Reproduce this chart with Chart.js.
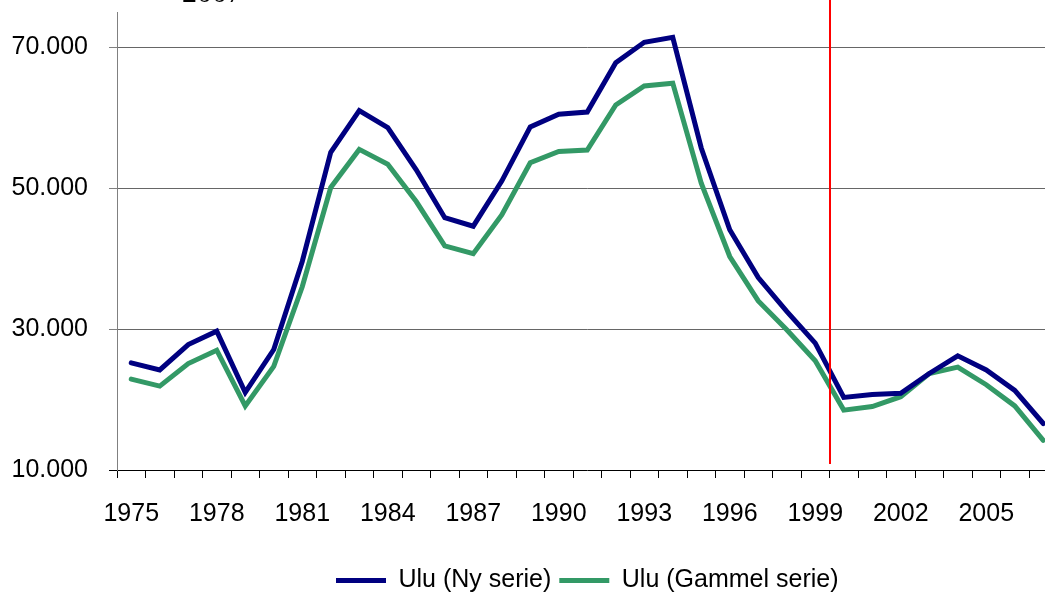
<!DOCTYPE html>
<html lang="no">
<head>
  <meta charset="UTF-8" />
  <title>Ulu 1975-2007</title>
  <script src="https://cdn.jsdelivr.net/npm/chart.js"></script>
  <style>
    html, body {
      margin: 0;
      padding: 0;
      background: #fff;
      overflow: hidden;
    }
    body {
      width: 1045px;
      height: 596px;
      position: relative;
    }
    .wrap {
      position: absolute;
      left: 0;
      top: 0;
      width: 1060px;
      height: 603px;
    }
    .title {
      position: absolute;
      left: 182px;
      top: -23px;
      font-family: "Liberation Serif", "Times New Roman", serif;
      font-size: 30px;
      line-height: 30px;
      color: #000;
      z-index: 2;
    }
  </style>
</head>
<body>
  <div class="title">2007</div>
  <div class="wrap"><canvas id="uluChart"></canvas></div>

  <script>
    const years = ["1975", "1976", "1977", "1978", "1979", "1980", "1981", "1982", "1983", "1984",
                   "1985", "1986", "1987", "1988", "1989", "1990", "1991", "1992", "1993", "1994",
                   "1995", "1996", "1997", "1998", "1999", "2000", "2001", "2002", "2003", "2004",
                   "2005", "2006", "2007"];

    const nySerie = [25200, 24200, 27800, 29700, 21000, 27100, 39600, 55100, 61000, 58600,
                     52600, 45800, 44600, 51000, 58700, 60500, 60800, 67800, 70700, 71400,
                     55700, 44100, 37300, 32500, 28000, 20300, 20700, 20900, 23700, 26200,
                     24200, 21300, 16600];

    const gammelSerie = [22900, 21900, 25100, 27000, 19100, 24700, 36000, 50100, 55500, 53400,
                         48100, 41800, 40700, 46200, 53600, 55200, 55400, 61800, 64500, 64900,
                         50700, 40300, 34000, 29900, 25500, 18500, 19000, 20400, 23700, 24600,
                         22100, 19100, 14200];

    const yTicks = [10000, 30000, 50000, 70000];
    const yMin = 10000;
    const yMax = 75000;
    const yearStep = 3;
    const breakYear = "1999"; // red line between 1999 and 2000

    Chart.defaults.font.family = '"Liberation Sans", Arial, sans-serif';
    Chart.defaults.font.size = 25;
    Chart.defaults.color = "#000";

    function fmt(v) {
      // 70000 -> "70.000"
      return String(v).replace(/\B(?=(\d{3})+(?!\d))/g, ".");
    }

    // vertical red marker
    const breakLine = {
      id: "breakLine",
      afterDatasetsDraw(chart) {
        const x = chart.scales.x;
        const i = years.indexOf(breakYear);
        const px = Math.round((x.getPixelForValue(i) + x.getPixelForValue(i + 1)) / 2);
        const ctx = chart.ctx;
        ctx.save();
        ctx.strokeStyle = "#ff0000";
        ctx.lineWidth = 2;
        ctx.beginPath();
        ctx.moveTo(px, 0);
        ctx.lineTo(px, chart.chartArea.bottom - 6);
        ctx.stroke();
        ctx.restore();
      }
    };

    const chart = new Chart(document.getElementById("uluChart"), {
      type: "line",
      data: {
        labels: years,
        datasets: [{
          label: "Ulu (Ny serie)",
          data: nySerie,
          borderColor: "#000080",
          backgroundColor: "#000080",
          borderWidth: 5,
          borderCapStyle: "round",
          pointRadius: 0,
          tension: 0
        }, {
          label: "Ulu (Gammel serie)",
          data: gammelSerie,
          borderColor: "#339966",
          backgroundColor: "#339966",
          borderWidth: 5,
          borderCapStyle: "round",
          pointRadius: 0,
          tension: 0
        }]
      },
      options: {
        responsive: true,
        maintainAspectRatio: false,
        animation: false,
        layout: {
          padding: { top: 12, right: 2.5, left: 0, bottom: 0 }
        },
        plugins: {
          title: { display: false },
          tooltip: { enabled: false },
          legend: {
            position: "bottom",
            fullSize: false,
            labels: {
              boxWidth: 50,
              boxHeight: 5,
              padding: 8,
              color: "#000",
              font: { size: 25 },
              generateLabels(c) {
                return Chart.defaults.plugins.legend.labels.generateLabels(c).map(item => {
                  item.fillStyle = item.strokeStyle;
                  item.lineWidth = 0;
                  return item;
                });
              }
            }
          }
        },
        scales: {
          x: {
            offset: true,
            grid: {
              offset: true,
              drawOnChartArea: false,
              drawTicks: true,
              tickLength: 8,
              tickColor: "#000"
            },
            border: { color: "#000", width: 1 },
            ticks: {
              autoSkip: false,
              maxRotation: 0,
              minRotation: 0,
              padding: 21,
              color: "#000",
              callback: function (val, i) {
                return i % yearStep === 0 ? years[i] : "";
              }
            },
            afterFit(scale) {
              scale.height = 90;
              scale.paddingLeft = 0;
              scale.paddingRight = 0;
            }
          },
          y: {
            min: yMin,
            max: yMax,
            afterBuildTicks(scale) {
              scale.ticks = yTicks.map(v => ({ value: v }));
            },
            grid: {
              color: ctx => (ctx.tick && ctx.tick.value === yMin) ? "rgba(0,0,0,0)" : "#666666",
              tickColor: ctx => (ctx.tick && ctx.tick.value === yMin) ? "#000" : "#808080",
              tickLength: 8
            },
            border: { color: "#808080", width: 1 },
            ticks: {
              padding: 21,
              color: "#000",
              callback: v => fmt(v)
            },
            afterFit(scale) {
              scale.width = 117;
              scale.paddingTop = 0;
              scale.paddingBottom = 0;
            }
          }
        }
      },
      plugins: [breakLine]
    });
  </script>
</body>
</html>
